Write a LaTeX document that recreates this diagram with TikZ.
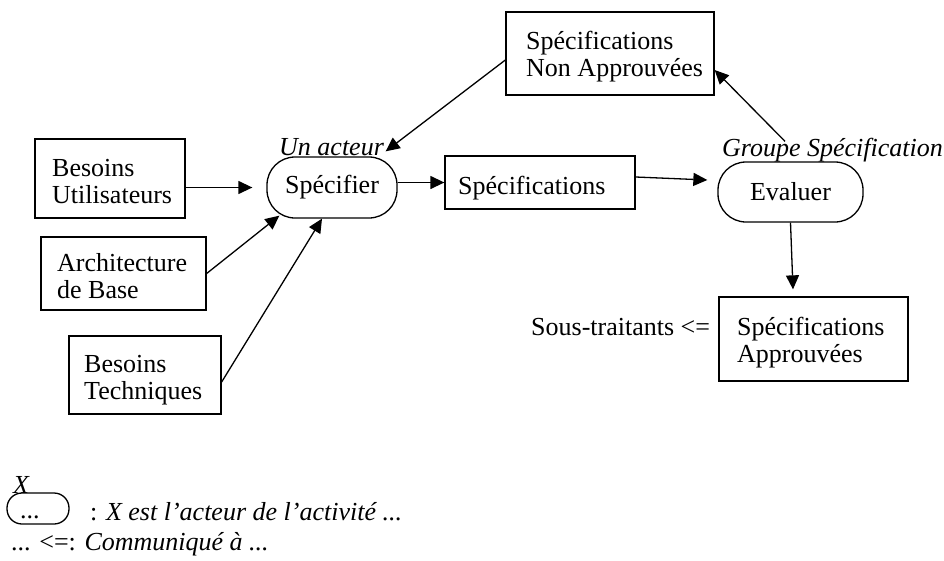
\documentclass[tikz,border=0pt]{standalone}
\usepackage{fontspec}
\setmainfont{Liberation Serif}
\usetikzlibrary{arrows.meta}

% stacked left-aligned lines whose reference point is the first baseline
\newcommand\boxlines[1]{\begin{tabular}[t]{@{}l@{}}#1\end{tabular}}

\tikzset{
  txt/.style={font=\fontsize{26}{27.5}\selectfont, inner sep=0pt, anchor=base west},
  ittxt/.style={txt, font=\fontsize{26}{27.5}\selectfont\itshape},
  docbox/.style={draw, line width=1.3pt, rectangle, inner sep=0pt},
  activity/.style={draw, line width=1.3pt, rounded corners=28pt,
    font=\fontsize{26}{27.5}\selectfont, inner sep=0pt},
  arr/.style={line width=1.3pt, -{Triangle[length=14pt,width=13pt]}},
}

\begin{document}
\begin{tikzpicture}[x=1pt, y=-1pt]
  \useasboundingbox (0,0) rectangle (944,560);

  % input documents
  \node[docbox, minimum width=150pt, minimum height=79pt] (bu) at (110,178.5) {};
  \node[txt] (buT) at (52,176) {\boxlines{Besoins\\Utilisateurs}};
  \node[docbox, minimum width=165pt, minimum height=73pt] (arch) at (123.5,273.5) {};
  \node[txt] (archT) at (57,271) {\boxlines{Architecture\\de Base}};
  \node[docbox, minimum width=152pt, minimum height=78pt] (tech) at (145,375) {};
  \node[txt] (techT) at (84,372) {\boxlines{Besoins\\Techniques}};

  % activities
  \node[activity, minimum width=130pt, minimum height=61pt] (spec) at (332,187.5) {Spécifier};
  \node[activity, minimum width=145pt, minimum height=60pt] (eval) at (790.5,192) {Evaluer};

  % actors
  \node[ittxt] (actor) at (279,155) {Un acteur};
  \node[ittxt] (group) at (722,156) {Groupe Spécification};

  % produced documents
  \node[docbox, minimum width=190pt, minimum height=53pt] (specs) at (540,182.5) {};
  \node[txt] (specsT) at (458,194) {Spécifications};
  \node[docbox, minimum width=208pt, minimum height=83pt] (nonapp) at (610,53.5) {};
  \node[txt] (nonappT) at (526,49) {\boxlines{Spécifications\\Non Approuvées}};
  \node[docbox, minimum width=189pt, minimum height=84pt] (app) at (813.5,339) {};
  \node[txt] (appT) at (737,335) {\boxlines{Spécifications\\Approuvées}};
  \node[txt] (sub) at (531,335) {Sous-traitants <=};

  % flows
  \draw[arr] (bu.east |- spec.west) -- ([xshift=-14pt]spec.west);
  \draw[arr] (arch.east) -- ([xshift=13pt,yshift=3pt]spec.south west);
  \draw[arr] ([yshift=-7pt]tech.east) -- ([xshift=-10pt]spec.south);
  \draw[arr] (spec.east |- specs.west) -- (specs.west);
  \draw[arr] ([yshift=5.5pt]specs.east) -- ([xshift=-10pt,yshift=12pt]eval.west);
  \draw[arr] ([xshift=-5.5pt,yshift=20pt]eval.north) -- ([yshift=-16.5pt]nonapp.east);
  \draw[arr] ([yshift=-6.5pt]nonapp.west) -- ([xshift=-12pt,yshift=5pt]spec.north east);
  \draw[arr] (eval.south) -- ([xshift=-20.5pt,yshift=7pt]app.north);

  % legend
  \node[activity, rounded corners=15pt, minimum width=62pt, minimum height=31pt] (lg) at (38,508.5) {};
  \node[txt] (lgdots) at (20,518) {...};
  \node[ittxt] (lgx) at (13,493) {X};
  \node[txt] (lg1) at (90,520) {: \textit{X est l’acteur de l’activité ...}};
  \node[txt] (lg2) at (11,550) {... <=: \textit{Communiqué à ...}};
\end{tikzpicture}
\end{document}
